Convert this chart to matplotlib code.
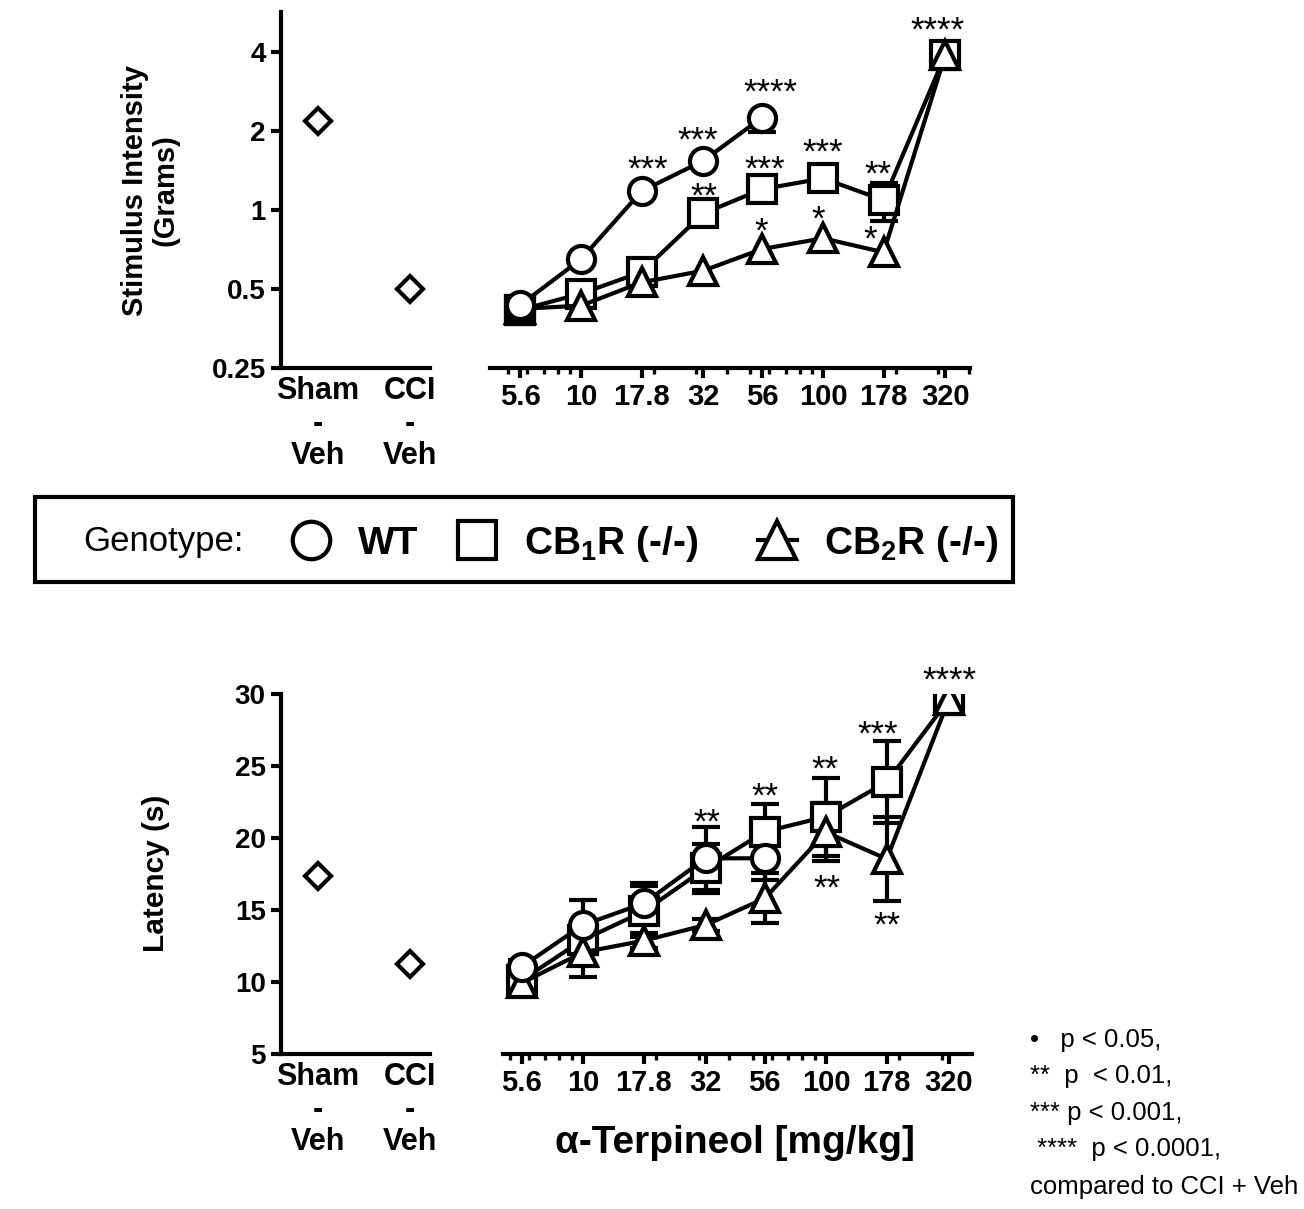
import matplotlib
matplotlib.use('Agg')
import matplotlib.pyplot as plt
from matplotlib import font_manager
from matplotlib.lines import Line2D
from matplotlib.patches import Rectangle
from matplotlib.ticker import FixedLocator, LogLocator, NullFormatter, NullLocator

plt.rcParams['font.family'] = ['Liberation Sans', 'DejaVu Sans']
plt.rcParams['mathtext.fontset'] = 'custom'
plt.rcParams['mathtext.rm'] = 'Liberation Sans'
plt.rcParams['mathtext.bf'] = 'Liberation Sans:bold'

NA = float('nan')  # error bar hidden behind the marker in the original

# ---- data ----
doses = [5.6, 10, 17.8, 32, 56, 100, 178, 320]
dose_labels = ['5.6', '10', '17.8', '32', '56', '100', '178', '320']
controls = ['Sham\n-\nVeh', 'CCI\n-\nVeh']

# von Frey, stimulus intensity (g)
vf_controls = [2.18, 0.50]
vf_wt = [0.434, 0.649, 1.18, 1.54, 2.25]
vf_wt_err_lo = [NA, NA, NA, NA, 0.27]
vf_wt_err_hi = [NA, NA, NA, NA, NA]
vf_cb1 = [0.416, 0.48, 0.58, 0.97, 1.20, 1.32, 1.09, 3.9]
vf_cb1_err = [NA, NA, NA, NA, NA, NA, 0.18, NA]
vf_cb2 = [0.42, 0.432, 0.53, 0.587, 0.71, 0.78, 0.69, 3.9]
vf_cb2_err = [NA, NA, NA, NA, NA, NA, NA, NA]
vf_stars = [(298, 4.40, '****'), (60.4, 2.56, '****'), (30.4, 1.68, '***'),
            (18.9, 1.30, '***'), (32.2, 1.03, '**'), (57.5, 1.30, '***'),
            (100, 1.51, '***'), (168.6, 1.245, '**'), (55.5, 0.755, '*'),
            (95.3, 0.839, '*'), (156, 0.704, '*')]

# hot plate, latency (s)
hp_controls = [17.36, 11.23]
hp_wt = [11.06, 13.96, 15.46, 18.59, 18.59]
hp_wt_err = [0.5, 1.7, 1.4, 2.2, 1.5]
hp_cb1 = [10.14, 12.92, 14.9, 17.9, 20.44, 21.48, 23.9, 29.6]
hp_cb1_err = [0.5, 1.0, 1.8, 1.7, 1.9, 2.7, 2.85, NA]
hp_cb2 = [9.93, 12.06, 12.87, 13.96, 15.81, 20.4, 18.54, 29.6]
hp_cb2_err = [0.4, 1.7, 0.5, 0.4, 1.74, 2.0, 2.9, NA]
hp_stars = [(323.6, 30.25, '****'), (163.7, 26.5, '***'), (99, 24.03, '**'),
            (56.1, 22.2, '**'), (32.4, 20.4, '**'), (101, 15.76, '**'),
            (178, 13.19, '**')]

notes = ['\u2022   p < 0.05,', '**  p  < 0.01,', '*** p < 0.001,',
         ' ****  p < 0.0001,', 'compared to CCI + Veh']

# ---- figure ----
W, H = 1304, 1209
fig = plt.figure(figsize=(W / 100, H / 100), dpi=100)


def box(x0, ytop, x1, ybot):
    return [x0 / W, 1 - ybot / H, (x1 - x0) / W, (ybot - ytop) / H]


LW = 3.0
MS = 19.5
mstyle = dict(color='black', lw=LW, mew=LW, mfc='white', mec='black')
estyle = dict(fmt='none', ecolor='black', elinewidth=LW, capsize=10, capthick=LW, zorder=2)


def draw_groups(ax, wt, wt_err, cb1, cb1_err, cb2, cb2_err):
    groups = [(cb1, cb1_err, 's', MS, 3), (cb2, cb2_err, '^', MS + 1, 4),
              (wt, wt_err, 'o', MS, 5)]
    for y, err, marker, ms, z in groups:
        x = doses[:len(y)]
        ax.errorbar(x, y, yerr=err, **estyle)
        ax.plot(x, y, marker=marker, ms=ms, zorder=z, **mstyle)


def style_left(ax):
    for s in ['top', 'right']:
        ax.spines[s].set_visible(False)
    for s in ['left', 'bottom']:
        ax.spines[s].set_linewidth(LW)
    ax.set_xticks([0, 1])
    ax.set_xticklabels(controls, fontsize=22, fontweight='bold', linespacing=1.1)
    ax.tick_params(axis='x', length=0, pad=6)
    ax.tick_params(axis='y', direction='out', length=7, width=LW, labelsize=20, pad=4)
    for t in ax.get_yticklabels():
        t.set_fontweight('bold')
    ax.set_xlim(-0.40, 1.22)


def style_right(ax, xlim):
    for s in ['top', 'right', 'left']:
        ax.spines[s].set_visible(False)
    ax.spines['bottom'].set_linewidth(LW)
    ax.set_xscale('log')
    ax.set_xlim(*xlim)
    ax.xaxis.set_major_locator(FixedLocator(doses))
    ax.set_xticklabels(dose_labels, fontsize=21, fontweight='bold')
    ax.xaxis.set_minor_locator(LogLocator(base=10, subs=range(2, 10)))
    ax.xaxis.set_minor_formatter(NullFormatter())
    ax.tick_params(axis='x', which='major', direction='out', length=7, width=LW, pad=4)
    ax.tick_params(axis='x', which='minor', direction='out', length=4, width=LW * 0.8)
    ax.yaxis.set_major_locator(NullLocator())
    ax.yaxis.set_minor_locator(NullLocator())
    ax.patch.set_alpha(0)


# top row: von Frey
ax1 = fig.add_axes(box(281, 12, 430, 368))
ax2 = fig.add_axes(box(490, 12, 970, 368))
for ax in (ax1, ax2):
    ax.set_yscale('log', base=2)
    ax.set_ylim(0.25, 5.68)
ax1.plot([0, 1], vf_controls, linestyle='none', marker='D', ms=13.5,
         mfc='white', mec='black', mew=LW)
ax1.yaxis.set_major_locator(FixedLocator([0.25, 0.5, 1, 2, 4]))
ax1.yaxis.set_minor_locator(NullLocator())
ax1.set_yticklabels(['0.25', '0.5', '1', '2', '4'])
style_left(ax1)
draw_groups(ax2, vf_wt, [vf_wt_err_lo, vf_wt_err_hi], vf_cb1, vf_cb1_err,
            vf_cb2, vf_cb2_err)
# overlapping symbols at the lowest dose print as a solid square in the original
ax2.plot(doses[:1], vf_cb1[:1], marker='s', ms=MS, mfc='black', mec='black',
         mew=LW, linestyle='none', zorder=4.5)
style_right(ax2, (4.207, 404.9))
for x, y, s in vf_stars:
    ax2.text(x, y, s, ha='center', va='baseline', fontsize=25, zorder=6)
fig.text(150 / W, 1 - 190 / H, 'Stimulus Intensity\n(Grams)', rotation=90,
         ha='center', va='center', fontsize=21, fontweight='bold', linespacing=1.1)

# bottom row: hot plate
ax3 = fig.add_axes(box(281, 694, 430, 1054))
ax4 = fig.add_axes(box(503, 694, 972, 1054))
for ax in (ax3, ax4):
    ax.set_ylim(5, 30)
ax3.plot([0, 1], hp_controls, linestyle='none', marker='D', ms=13.5,
         mfc='white', mec='black', mew=LW)
ax3.set_yticks([5, 10, 15, 20, 25, 30])
style_left(ax3)
draw_groups(ax4, hp_wt, hp_wt_err, hp_cb1, hp_cb1_err, hp_cb2, hp_cb2_err)
style_right(ax4, (4.69, 399))
for x, y, s in hp_stars:
    ax4.text(x, y, s, ha='center', va='baseline', fontsize=25, zorder=6)
fig.text(156 / W, 1 - 873 / H, 'Latency (s)', rotation=90,
         ha='center', va='center', fontsize=21.5, fontweight='bold')
fig.text(735 / W, 1 - 1143 / H, '\u03b1-Terpineol [mg/kg]', ha='center',
         va='center', fontsize=28, fontweight='bold')

# legend box
fig.add_artist(Rectangle((35 / W, 1 - 582 / H), 978 / W, 85 / H,
                         transform=fig.transFigure, fill=False, lw=LW, ec='black'))
fig.text(83 / W, 1 - 541 / H, 'Genotype:', ha='left', va='center', fontsize=25)
mk = dict(color='black', mfc='white', mec='black', mew=LW, ms=27)
legend_items = [
    (Line2D([], [], marker='o', linestyle='none', **mk), 'WT', 292),
    (Line2D([], [], marker='s', linestyle='none', **mk), r'CB$_\mathbf{1}$R (-/-)', 458),
    (Line2D([], [], marker='^', lw=LW, **mk), r'CB$_\mathbf{2}$R (-/-)', 758),
]
for handle, label, x in legend_items:
    fig.legend([handle], [label], loc='center left', bbox_to_anchor=(x / W, 1 - 544 / H),
               frameon=False, borderpad=0, borderaxespad=0, handlelength=1.0,
               handletextpad=0.7, prop=dict(size=28, weight='bold'))

# significance note
try:
    font_manager.findfont('Liberation Sans Narrow', fallback_to_default=False)
    note_family, note_size = 'Liberation Sans Narrow', 22
except ValueError:
    note_family, note_size = 'Liberation Sans', 18.5
for line, y in zip(notes, [1040, 1076, 1113, 1149, 1187]):
    fig.text(1030 / W, 1 - y / H, line, ha='left', va='center',
             fontsize=note_size, family=note_family)

fig.savefig('out.png', dpi=100)
